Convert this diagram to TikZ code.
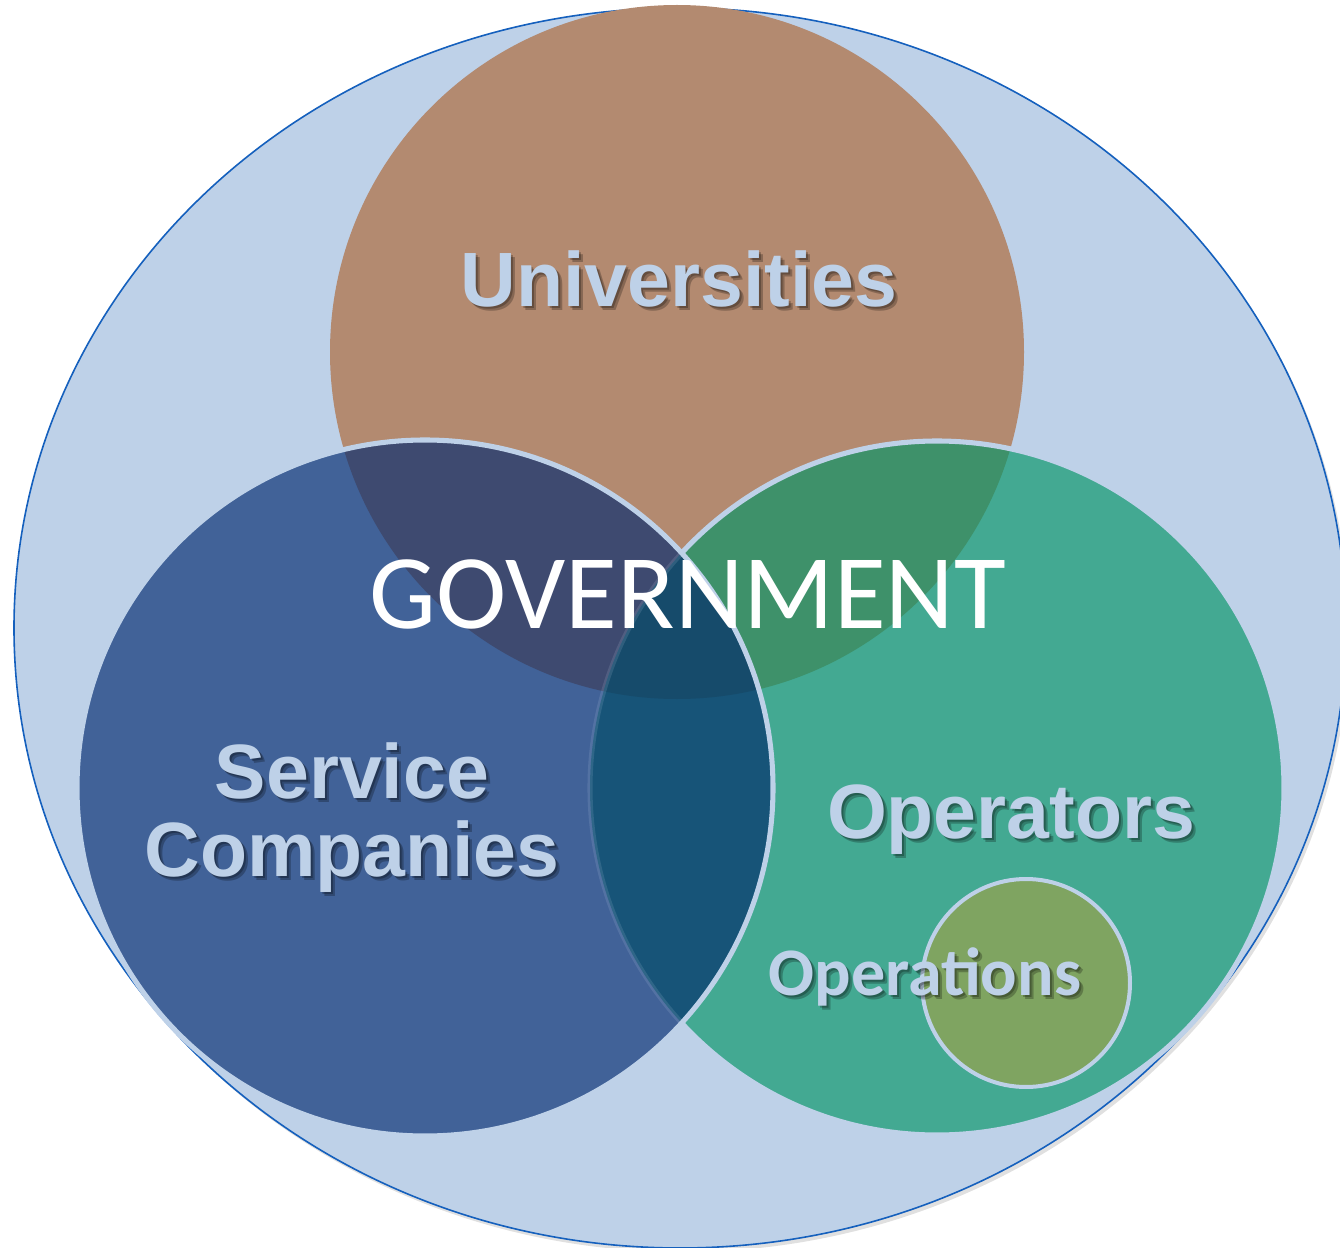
\documentclass[tikz,border=0pt]{standalone}
\usepackage{fontspec}
\newfontfamily\arialfont{Liberation Sans}
\newfontfamily\calibrifont{Carlito}

\begin{document}
\begin{tikzpicture}[x=0.75pt,y=0.75pt,yscale=-1,xscale=1,
  ringline/.style={color={rgb, 255:red, 190; green, 209; blue, 232 }},
  grouplabel/.style={font=\arialfont\bfseries\fontsize{57.75}{58.5}\selectfont, text={rgb, 255:red, 190; green, 209; blue, 232 }, inner sep=0pt, align=center},
  smalllabel/.style={font=\calibrifont\bfseries\fontsize{51}{52}\selectfont, text={rgb, 255:red, 190; green, 209; blue, 232 }, inner sep=0pt},
  labelshadow/.style={text=black, text opacity=0.25}
]
%uncomment if require: \path (0,1248); %set diagram left start at 0, and has height of 1248
\useasboundingbox (0,0) rectangle (1340,1248);

%Shape: Ellipse [shadow]
\fill  [color={rgb, 255:red, 0; green, 0; blue, 0 }  ,opacity=0.12 ] (683,632) ellipse (666 and 620) ;
%Shape: Ellipse [government]
\draw  [color={rgb, 255:red, 21; green, 96; blue, 189 }  ,fill={rgb, 255:red, 190; green, 209; blue, 232 }  ,fill opacity=1 ,line width=1.2 ] (680,628) ellipse (666 and 620) ;

%Shape: Circle [universities]
\fill  [fill={rgb, 255:red, 179; green, 138; blue, 112 }  ] (677,352) circle (347) ;
%Shape: Circle [operators]
\fill  [fill={rgb, 255:red, 67; green, 169; blue, 146 }  ] (937,788) circle (347) ;
%Shape: Overlap universities / operators
\begin{scope}
\clip (677,352) circle (347) ;
\fill  [fill={rgb, 255:red, 62; green, 145; blue, 106 }  ] (937,788) circle (347) ;
\end{scope}
%Shape: Circle border [operators]
\draw  [ringline ,line width=3.8 ] (937,788) circle (347) ;

%Shape: Circle [service companies]
\fill  [fill={rgb, 255:red, 65; green, 98; blue, 152 }  ] (425,788) circle (348) ;
%Shape: Overlap universities / service companies
\begin{scope}
\clip (677,352) circle (347) ;
\fill  [fill={rgb, 255:red, 62; green, 74; blue, 112 }  ] (425,788) circle (348) ;
\end{scope}
%Shape: Overlap service companies / operators
\begin{scope}
\clip (425,788) circle (348) ;
\fill  [fill={rgb, 255:red, 23; green, 84; blue, 120 }  ] (937,788) circle (347) ;
\end{scope}
%Shape: Overlap of all three
\begin{scope}
\clip (677,352) circle (347) ;
\clip (425,788) circle (348) ;
\fill  [fill={rgb, 255:red, 22; green, 75; blue, 107 }  ] (937,788) circle (347) ;
\end{scope}
%Shape: faint border of operators inside service companies
\begin{scope}
\clip (425,788) circle (348) ;
\draw  [ringline ,opacity=0.15 ,line width=3.8 ] (937,788) circle (347) ;
\end{scope}
%Shape: Circle border [service companies]
\draw  [ringline ,line width=3.8 ] (425,788) circle (348) ;

%Shape: Circle [operations]
\draw  [ringline ,fill={rgb, 255:red, 127; green, 164; blue, 97 }  ,line width=3 ] (1026,983) circle (104) ;

% Text Node
\node (univshadowa) [grouplabel ,labelshadow ,anchor=base] at (681,309) {Universities};
\node (univshadowb) [grouplabel ,labelshadow ,anchor=base] at (683,311) {Universities};
\node (univ) [grouplabel ,anchor=base] at (679,307) {Universities};
% Text Node
\node (servshadowa) [grouplabel ,labelshadow] at (354,820) {Service\\Companies};
\node (servshadowb) [grouplabel ,labelshadow] at (356,822) {Service\\Companies};
\node (serv) [grouplabel] at (352,818) {Service\\Companies};
% Text Node
\node (opsshadowa) [grouplabel ,labelshadow ,anchor=base] at (1013,840) {Operators};
\node (opsshadowb) [grouplabel ,labelshadow ,anchor=base] at (1015,842) {Operators};
\node (ops) [grouplabel ,anchor=base] at (1011,838) {Operators};
% Text Node
\node (operationsshadowa) [smalllabel ,labelshadow ,anchor=base] at (927,997) {Operations};
\node (operationsshadowb) [smalllabel ,labelshadow ,anchor=base] at (929,999) {Operations};
\node (operations) [smalllabel ,anchor=base] at (925,995) {Operations};
% Text Node
\node (gov) [font=\calibrifont\fontsize{79.5}{80}\selectfont ,text=white ,inner sep=0pt ,anchor=base] at (688,628) {GOVERNMENT};

\end{tikzpicture}
\end{document}
